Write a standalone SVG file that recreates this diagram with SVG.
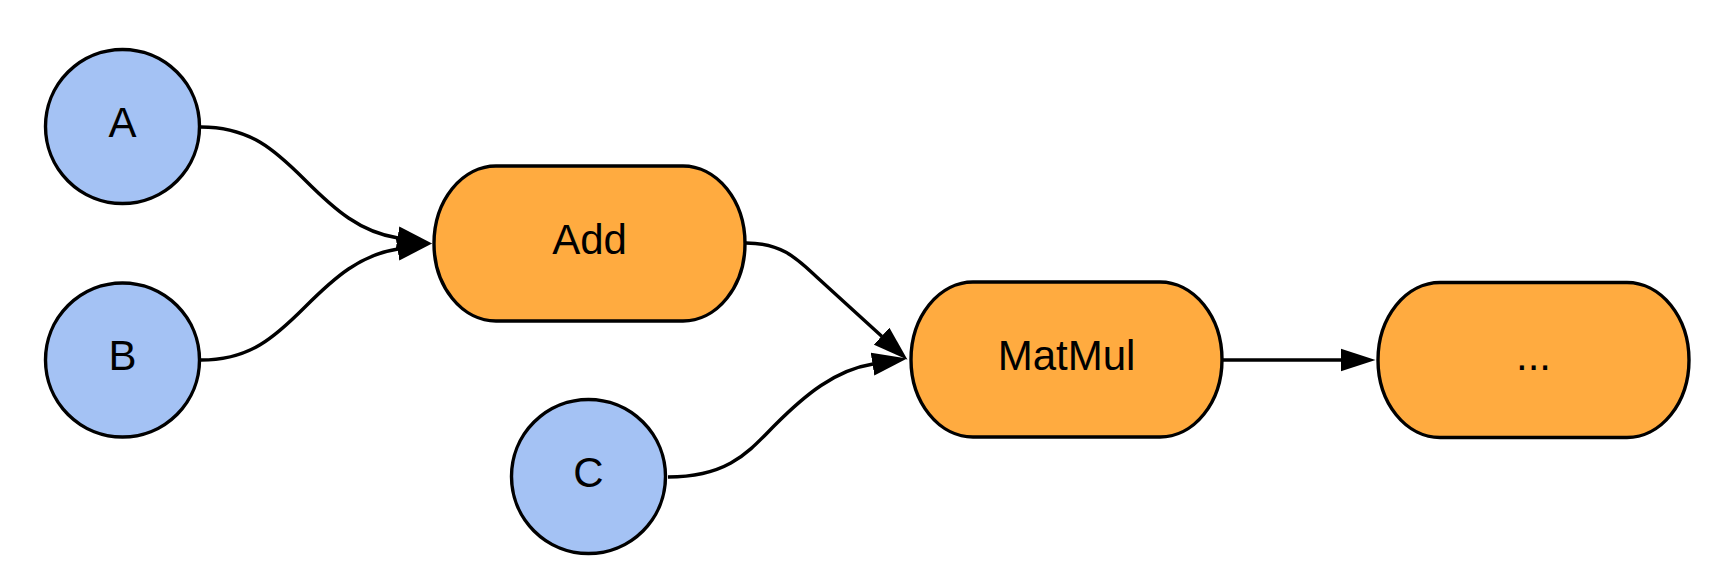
<svg xmlns="http://www.w3.org/2000/svg" width="1715" height="586" viewBox="0 0 1715 586">
<style>
.in{fill:#a4c2f4;stroke:#000;stroke-width:3.4}
.op{fill:#ffab40;stroke:#000;stroke-width:3.4}
.lbl{font-family:"Liberation Sans",Arial,sans-serif;font-size:42px;fill:#000;text-anchor:middle}
.edge{fill:none;stroke:#000;stroke-width:3.4}
</style>
<defs>
<marker id="arr" markerUnits="userSpaceOnUse" markerWidth="36" markerHeight="24" viewBox="0 0 36 24" refX="0.5" refY="12" orient="auto">
<path d="M0,0.5 L35,12 L0,23.5 z" fill="#000"/>
</marker>
</defs>
<rect width="1715" height="586" fill="#fff"/>
<g id="connectors">
<path class="edge" d="M201,127 C250,127 275,150 305,180 C335,210 360,232 398,238" marker-end="url(#arr)"/>
<path class="edge" d="M201,360 C250,360 275,337 305,307 C335,277 360,255 398,249" marker-end="url(#arr)"/>
<path class="edge" d="M746,243 C785,243 800,262 820,280 L882,336.5" marker-end="url(#arr)"/>
<path class="edge" d="M668,477 C730,477 750,450 775,425 C805,395 835,370 873,364" marker-end="url(#arr)"/>
<path class="edge" d="M1222,360 L1341,360" marker-end="url(#arr)"/>
</g>
<g id="A"><circle class="in" cx="122.5" cy="126.5" r="77"/><text class="lbl" x="122.5" y="137">A</text></g>
<g id="B"><circle class="in" cx="122.5" cy="360" r="77"/><text class="lbl" x="122.5" y="370">B</text></g>
<g id="C"><circle class="in" cx="588.5" cy="476.5" r="77"/><text class="lbl" x="588.5" y="487">C</text></g>
<g id="Add"><rect class="op" x="434" y="166" width="311" height="155" rx="62" ry="77.5"/><text class="lbl" x="589.5" y="254">Add</text></g>
<g id="MatMul"><rect class="op" x="911" y="282" width="311" height="155" rx="62" ry="77.5"/><text class="lbl" x="1066.5" y="370">MatMul</text></g>
<g id="Next"><rect class="op" x="1378" y="282.5" width="311" height="155" rx="62" ry="77.5"/><text class="lbl" x="1533.5" y="370">...</text></g>
</svg>
